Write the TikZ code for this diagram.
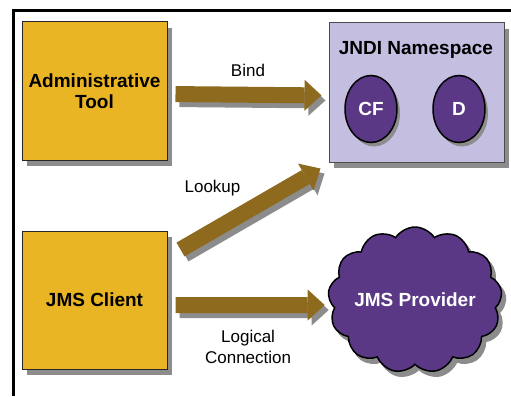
\documentclass[tikz,border=0pt]{standalone}
\usepackage{fontspec}
\setmainfont{Liberation Sans}
\usetikzlibrary{arrows.meta,calc,positioning,shapes.geometric,shapes.symbols,backgrounds}
\definecolor{boxgold}{RGB}{234,181,36}
\definecolor{arrowbrown}{RGB}{142,106,30}
\definecolor{nslav}{RGB}{196,191,225}
\definecolor{objpurple}{RGB}{90,56,134}
\definecolor{shadowgray}{RGB}{140,140,140}

\begin{document}
\begin{tikzpicture}[x=1pt, y=-1pt,
    font=\fontsize{17}{20.4}\selectfont, align=center,
    shadowfill/.style={fill=shadowgray},
    compbox/.style={rectangle, draw=black!85, line width=1pt, fill=boxgold,
      minimum width=145pt, minimum height=138pt, inner sep=0pt,
      font=\fontsize{19}{21}\selectfont\bfseries},
    nsbox/.style={rectangle, draw=black!70, line width=1pt, fill=nslav,
      minimum width=175pt, minimum height=139pt, inner sep=0pt},
    obj/.style={ellipse, draw=black, line width=1.5pt, fill=objpurple,
      minimum width=52pt, minimum height=67pt, inner sep=0pt, text=white,
      font=\fontsize{19}{21}\selectfont\bfseries},
    cloudshape/.style={cloud, cloud puffs=13, cloud puff arc=115, cloud ignores aspect,
      line width=1.5pt, minimum width=174pt, minimum height=146pt, inner sep=0pt},
    provider/.style={cloudshape, draw=black, fill=objpurple, text=white,
      font=\fontsize{19}{21}\selectfont\bfseries},
    bigarrow/.style={draw=arrowbrown, line width=16pt,
      -{Triangle[length=17pt, width=31pt, line width=0pt]}},
    arrowshadow/.style={draw=shadowgray, line width=16pt,
      -{Triangle[length=17pt, width=31pt, line width=0pt]},
      transform canvas={shift={(4pt,-5pt)}}},
    frame/.style={draw=black, line width=3pt}]
\useasboundingbox (0,0) rectangle (511,396);
\coordinate (framecorner) at (13.5,11);
\draw [frame] (511,11) -- (framecorner) -- (13.5,396);
\fill [shadowfill] (27,28) rectangle (172,166);
\fill [shadowfill] (27,237) rectangle (172,375);
\fill [shadowfill] (334,29) rectangle (509,168);
\node [compbox] (admin) at (94.5,91) {Administrative\\Tool};
\node [compbox] (client) at (94.5,300) {JMS Client};
\node [nsbox] (jndi) at (416.5,92.5) {};
\node [font=\fontsize{19}{21}\selectfont\bfseries] (jndilabel) at (416,50) {JNDI Namespace};
\fill [shadowfill] (374,113) ellipse (26 and 33.5);
\fill [shadowfill] (462,113) ellipse (26 and 33.5);
\node [obj] (cf) at (371,109) {CF};
\node [obj] (d) at (459,109) {D};
\node [cloudshape, shadowfill, draw=shadowgray] (providershadow) at (419,305) {};
\node [provider] (provider) at (415,300) {JMS Provider};
\coordinate (lookupstart) at ($(client.north east)+(13,19)$);
\coordinate (lookupend) at ($(jndi.south west)+(-8,6)$);
\draw [arrowshadow, shorten <=8pt, shorten >=7pt] ([yshift=-3pt]admin.east) -- ([yshift=-3pt]jndi.west);
\draw [arrowshadow] (lookupstart) -- (lookupend);
\draw [arrowshadow, shorten <=8pt, shorten >=4pt] ([yshift=-5pt]client.east) -- ([yshift=-5pt]provider.west);
\draw [bigarrow, shorten <=8pt, shorten >=7pt] ([yshift=-3pt]admin.east) -- ([yshift=-3pt]jndi.west)
    node [midway, yshift=24pt] (bindlabel) {Bind};
\draw [bigarrow] (lookupstart) -- (lookupend)
    node [midway, xshift=-38pt, yshift=21pt] (lookuplabel) {Lookup};
\draw [bigarrow, shorten <=8pt, shorten >=4pt] ([yshift=-5pt]client.east) -- ([yshift=-5pt]provider.west)
    node [midway, yshift=-42pt] (logicallabel) {Logical\\Connection};
\end{tikzpicture}
\end{document}
